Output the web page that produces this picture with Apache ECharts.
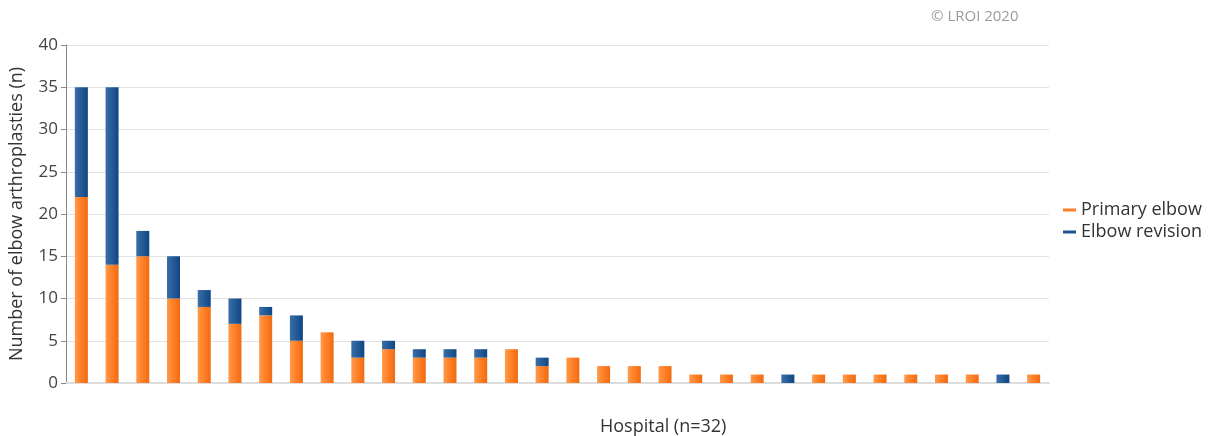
<!DOCTYPE html>
<html><head><meta charset="utf-8">
<script src="https://cdn.jsdelivr.net/npm/echarts@6/dist/echarts.min.js"></script>
<style>html,body{margin:0;padding:0;background:#fff}#c{width:1213px;height:436px}</style>
</head><body><div id="c"></div>
<script>
const categories = Array.from({length:32},(_, i)=>'H'+(i+1));
const primary  = [22,14,15,10,9,7,8,5,6,3,4,3,3,3,4,2,3,2,2,2,1,1,1,0,1,1,1,1,1,1,0,1];
const revision = [13,21,3,5,2,3,1,3,0,2,1,1,1,1,0,1,0,0,0,0,0,0,0,1,0,0,0,0,0,0,1,0];
const yTicks = {min:0,max:40,interval:5};

const orangeGrad = new echarts.graphic.LinearGradient(0,0,1,0,[
  {offset:0,color:'#ff9a4a'},{offset:0.5,color:'#ff7f27'},{offset:1,color:'#f06a10'}]);
const blueGrad = new echarts.graphic.LinearGradient(0,0,1,0,[
  {offset:0,color:'#3a6ea8'},{offset:0.5,color:'#245a96'},{offset:1,color:'#0f4583'}]);
const FONT = '"Open Sans", Lato, sans-serif';
const chart = echarts.init(document.getElementById('c'));
chart.setOption({
  animation:false,
  textStyle:{fontFamily:FONT},
  graphic:[
    {type:'text',left:931,top:9,style:{text:'© LROI 2020',fill:'#9a9a9a',font:'15px '+FONT}},
    {type:'text',left:600,top:418,style:{text:'Hospital (n=32)',fill:'#333',font:'18px '+FONT}}
  ],
  legend:{
    orient:'vertical', left:1058, top:196, itemGap:4,
    icon:'rect', itemWidth:13, itemHeight:3,
    textStyle:{fontSize:18,color:'#333',fontFamily:FONT},
    data:[{name:'Primary elbow',itemStyle:{color:'#ff7f27'}},{name:'Elbow revision',itemStyle:{color:'#1f5591'}}]
  },
  grid:{left:66,right:164,top:45,bottom:53,outerBoundsMode:'none',containLabel:false},
  xAxis:{
    type:'category', data:categories,
    axisLine:{lineStyle:{color:'#ddd',width:2}}, axisTick:{show:false}, axisLabel:{show:false}
  },
  yAxis:{
    type:'value', min:yTicks.min, max:yTicks.max, interval:yTicks.interval,
    name:'Number of elbow arthroplasties (n)', nameLocation:'middle', nameGap:40,
    nameTextStyle:{fontSize:18,color:'#333',fontFamily:FONT},
    axisLine:{show:true,lineStyle:{color:'#888'}},
    axisTick:{show:true,length:5,lineStyle:{color:'#888'}},
    axisLabel:{fontSize:17,color:'#444',margin:8,fontFamily:FONT},
    splitLine:{lineStyle:{color:'#e2e2e2'}}
  },
  series:[
    {name:'Primary elbow',type:'bar',stack:'t',data:primary,barWidth:13,
     itemStyle:{color:orangeGrad}},
    {name:'Elbow revision',type:'bar',stack:'t',data:revision,barWidth:13,
     itemStyle:{color:blueGrad}}
  ]
});
</script></body></html>
